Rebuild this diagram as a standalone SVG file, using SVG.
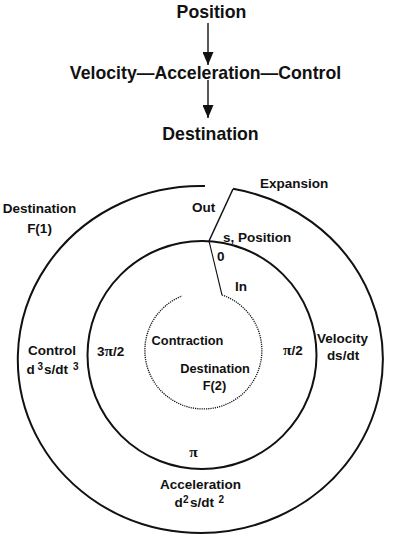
<svg xmlns="http://www.w3.org/2000/svg" width="402" height="553" viewBox="0 0 402 553">
<style>
  text { font-family: "Liberation Sans", Arial, sans-serif; font-weight: bold; fill: #111; }
  .big { font-size: 17.7px; }
  .lbl { font-size: 13.5px; }
  .sm { font-size: 12.8px; }
  .sup { font-size: 10px; }
  .pi { font-family: "Liberation Serif", "DejaVu Serif", serif; font-size: 15.5px; }
  .ring { fill: none; stroke: #111; stroke-width: 2; }
  .conn { fill: none; stroke: #111; stroke-width: 1.4; }
</style>
<defs>
  <marker id="arrow" viewBox="0 0 13 11" refX="13" refY="5.5" markerWidth="13" markerHeight="11" markerUnits="userSpaceOnUse" orient="auto">
    <path d="M0,0 L13,5.5 L0,11 Z" fill="#111"/>
  </marker>
</defs>
<rect width="402" height="553" fill="#fff"/>

<g id="node-position"><text class="big" x="211.5" y="18" text-anchor="middle">Position</text></g>
<g id="node-chain"><text class="big" x="205.5" y="79" text-anchor="middle">Velocity—Acceleration—Control</text></g>
<g id="node-destination"><text class="big" x="210.5" y="140" text-anchor="middle">Destination</text></g>

<g id="connectors">
  <line x1="208" y1="23" x2="208" y2="65" class="conn" marker-end="url(#arrow)"/>
  <line x1="208" y1="80" x2="208" y2="118" class="conn" marker-end="url(#arrow)"/>
</g>

<g id="circles">
  <path class="ring" d="M233,188.8 A182.5,173.5 0 1 1 205,186.05"/>
  <ellipse class="ring" cx="202" cy="355" rx="114.5" ry="114"/>
  <line x1="233" y1="189" x2="209" y2="241" stroke="#111" stroke-width="1.5"/>
  <line x1="209" y1="241" x2="222" y2="295" stroke="#111" stroke-width="1.1"/>
  <path d="M222,295 A58.5,58.5 0 1 1 182,296" fill="none" stroke="#111" stroke-width="1.3" stroke-dasharray="1.2,1"/>
</g>

<g id="labels">
  <text class="lbl" x="260" y="188">Expansion</text>
  <text class="lbl" x="192" y="212">Out</text>
  <text class="lbl" x="223" y="242">s, Position</text>
  <text class="lbl" x="217" y="261">0</text>
  <text class="lbl" x="235" y="291">In</text>
  <text class="lbl" x="39.5" y="213" text-anchor="middle">Destination</text>
  <text class="lbl" x="39.5" y="233" text-anchor="middle">F(1)</text>
  <text class="lbl" x="52" y="355" text-anchor="middle">Control</text>
  <text class="lbl" x="26.5" y="374">d</text>
  <text class="sup" x="37.5" y="370">3</text>
  <text class="lbl" x="44" y="374">s/dt</text>
  <text class="sup" x="73" y="370">3</text>
  <text class="lbl" x="97" y="356"><tspan>3</tspan><tspan class="pi">π</tspan><tspan>/2</tspan></text>
  <text class="sm" x="187.5" y="345" text-anchor="middle">Contraction</text>
  <text class="sm" x="215" y="373" text-anchor="middle">Destination</text>
  <text class="sm" x="214.5" y="390" text-anchor="middle">F(2)</text>
  <text class="lbl" x="283" y="355"><tspan class="pi">π</tspan><tspan>/2</tspan></text>
  <text class="lbl" x="342.5" y="343" text-anchor="middle">Velocity</text>
  <text class="lbl" x="343" y="360" text-anchor="middle">ds/dt</text>
  <text class="lbl pi" x="193.5" y="457" text-anchor="middle">π</text>
  <text class="lbl" x="200.5" y="489" text-anchor="middle">Acceleration</text>
  <text class="lbl" x="174.5" y="507">d</text>
  <text class="sup" x="183" y="503">2</text>
  <text class="lbl" x="190" y="507">s/dt</text>
  <text class="sup" x="218.5" y="503">2</text>
</g>
</svg>
